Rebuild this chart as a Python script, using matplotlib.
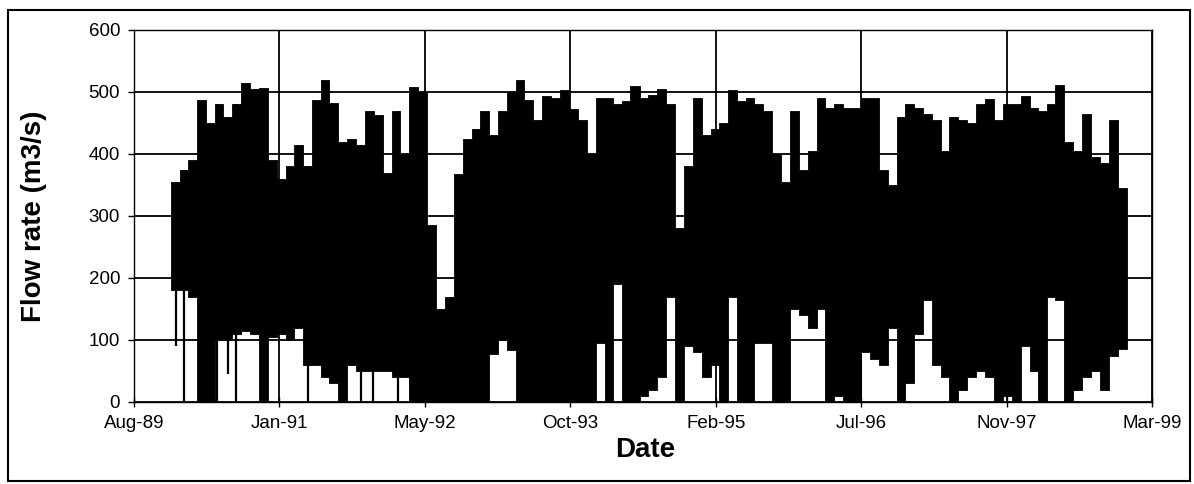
import numpy as np
import pandas as pd
import matplotlib
matplotlib.use('Agg')
import matplotlib.pyplot as plt
from matplotlib.patches import Rectangle

# monthly envelope of the daily flow record (Jan 1990 - Dec 1998)
months = pd.date_range('1990-01-01', '1998-12-01', freq='MS')

flow_high = [355, 375, 390, 487, 450, 480, 460, 480, 514, 505, 506, 390,
             360, 380, 415, 380, 487, 519, 482, 420, 425, 415, 470, 463,
             370, 470, 400, 508, 500, 285, 150, 170, 368, 425, 440, 470,
             430, 470, 500, 519, 487, 455, 493, 490, 503, 473, 455, 400,
             490, 490, 480, 485, 510, 490, 495, 505, 480, 280, 380, 490,
             430, 440, 450, 503, 485, 490, 480, 470, 400, 355, 470, 375,
             405, 490, 475, 480, 475, 475, 490, 490, 375, 350, 460, 480,
             475, 465, 455, 405, 460, 455, 450, 480, 488, 455, 480, 480,
             493, 475, 470, 480, 511, 420, 405, 465, 395, 385, 455, 345]

# lower edge of the dense band for each month
flow_low = [180, 180, 170, 0, 0, 100, 100, 110, 115, 110, 0, 105,
            110, 100, 120, 60, 60, 40, 30, 0, 60, 50, 50, 50,
            50, 40, 40, 0, 0, 0, 0, 0, 0, 0, 0, 0,
            78, 100, 84, 0, 0, 0, 0, 0, 0, 0, 0, 0,
            95, 0, 190, 0, 0, 10, 20, 40, 170, 0, 90, 80,
            40, 60, 0, 170, 0, 0, 95, 95, 0, 0, 150, 140,
            120, 150, 0, 10, 0, 0, 80, 70, 60, 120, 0, 30,
            110, 165, 60, 40, 0, 20, 40, 50, 40, 0, 10, 0,
            90, 50, 0, 170, 165, 0, 20, 40, 50, 20, 75, 85]

# single-day dips that stick out below the band
dip_dates = pd.to_datetime(['1990-01-19', '1990-02-17', '1990-06-09', '1990-07-17',
                            '1990-08-15', '1991-04-18', '1991-10-17', '1991-11-28',
                            '1992-02-21'])
dip_values = [90, 0, 0, 45, 0, 0, 0, 0, 0]

tick_labels = ['Aug-89', 'Jan-91', 'May-92', 'Oct-93', 'Feb-95', 'Jul-96', 'Nov-97', 'Mar-99']

plt.rcParams['font.family'] = ['Liberation Sans', 'DejaVu Sans']

fig = plt.figure(figsize=(11.94, 4.84), dpi=100)
ax = fig.add_axes([134 / 1194, 1 - 402 / 484, 1018 / 1194, 372 / 484])

# step edges: each month holds its value until the next month starts
edges = list(months) + [pd.Timestamp('1999-01-01')]
hi = flow_high + [flow_high[-1]]
lo = flow_low + [flow_low[-1]]
ax.fill_between(edges, lo, hi, step='post', color='black', linewidth=0.6, zorder=3)

idx = months.searchsorted(dip_dates, side='right') - 1
ax.vlines(dip_dates, dip_values, [flow_high[i] for i in idx], color='black', linewidth=1.6, zorder=3)

# excel style date axis: 500 day major unit
start = pd.Timestamp('1989-08-28')
ticks = [start + pd.Timedelta(days=500 * i) for i in range(len(tick_labels))]
ax.set_xlim(ticks[0], ticks[-1])
ax.set_xticks(ticks)
ax.set_xticklabels(tick_labels)
ax.set_ylim(0, 600)
ax.set_yticks(np.arange(0, 601, 100))

ax.grid(True, color='black', linewidth=1.3)
ax.set_axisbelow(True)
for s in ax.spines.values():
    s.set_color('black')
    s.set_linewidth(1.0)

ax.tick_params(axis='y', direction='out', length=4, width=1, labelsize=13.5, pad=6)
ax.tick_params(axis='x', direction='inout', length=7, width=1, labelsize=13.5, pad=6)

ax.set_ylabel('Flow rate (m3/s)', fontsize=20, fontweight='bold')
ax.yaxis.set_label_coords(-0.0855, 0.5)
ax.set_xlabel('Date', fontsize=20, fontweight='bold')
ax.xaxis.set_label_coords(0.502, -0.094)

# outer chart border
fig.patches.append(Rectangle((8 / 1194, 3 / 484), 1182 / 1194, 471 / 484,
                             transform=fig.transFigure, fill=False,
                             edgecolor='black', linewidth=1.5))

fig.savefig('out.png', dpi=100)
